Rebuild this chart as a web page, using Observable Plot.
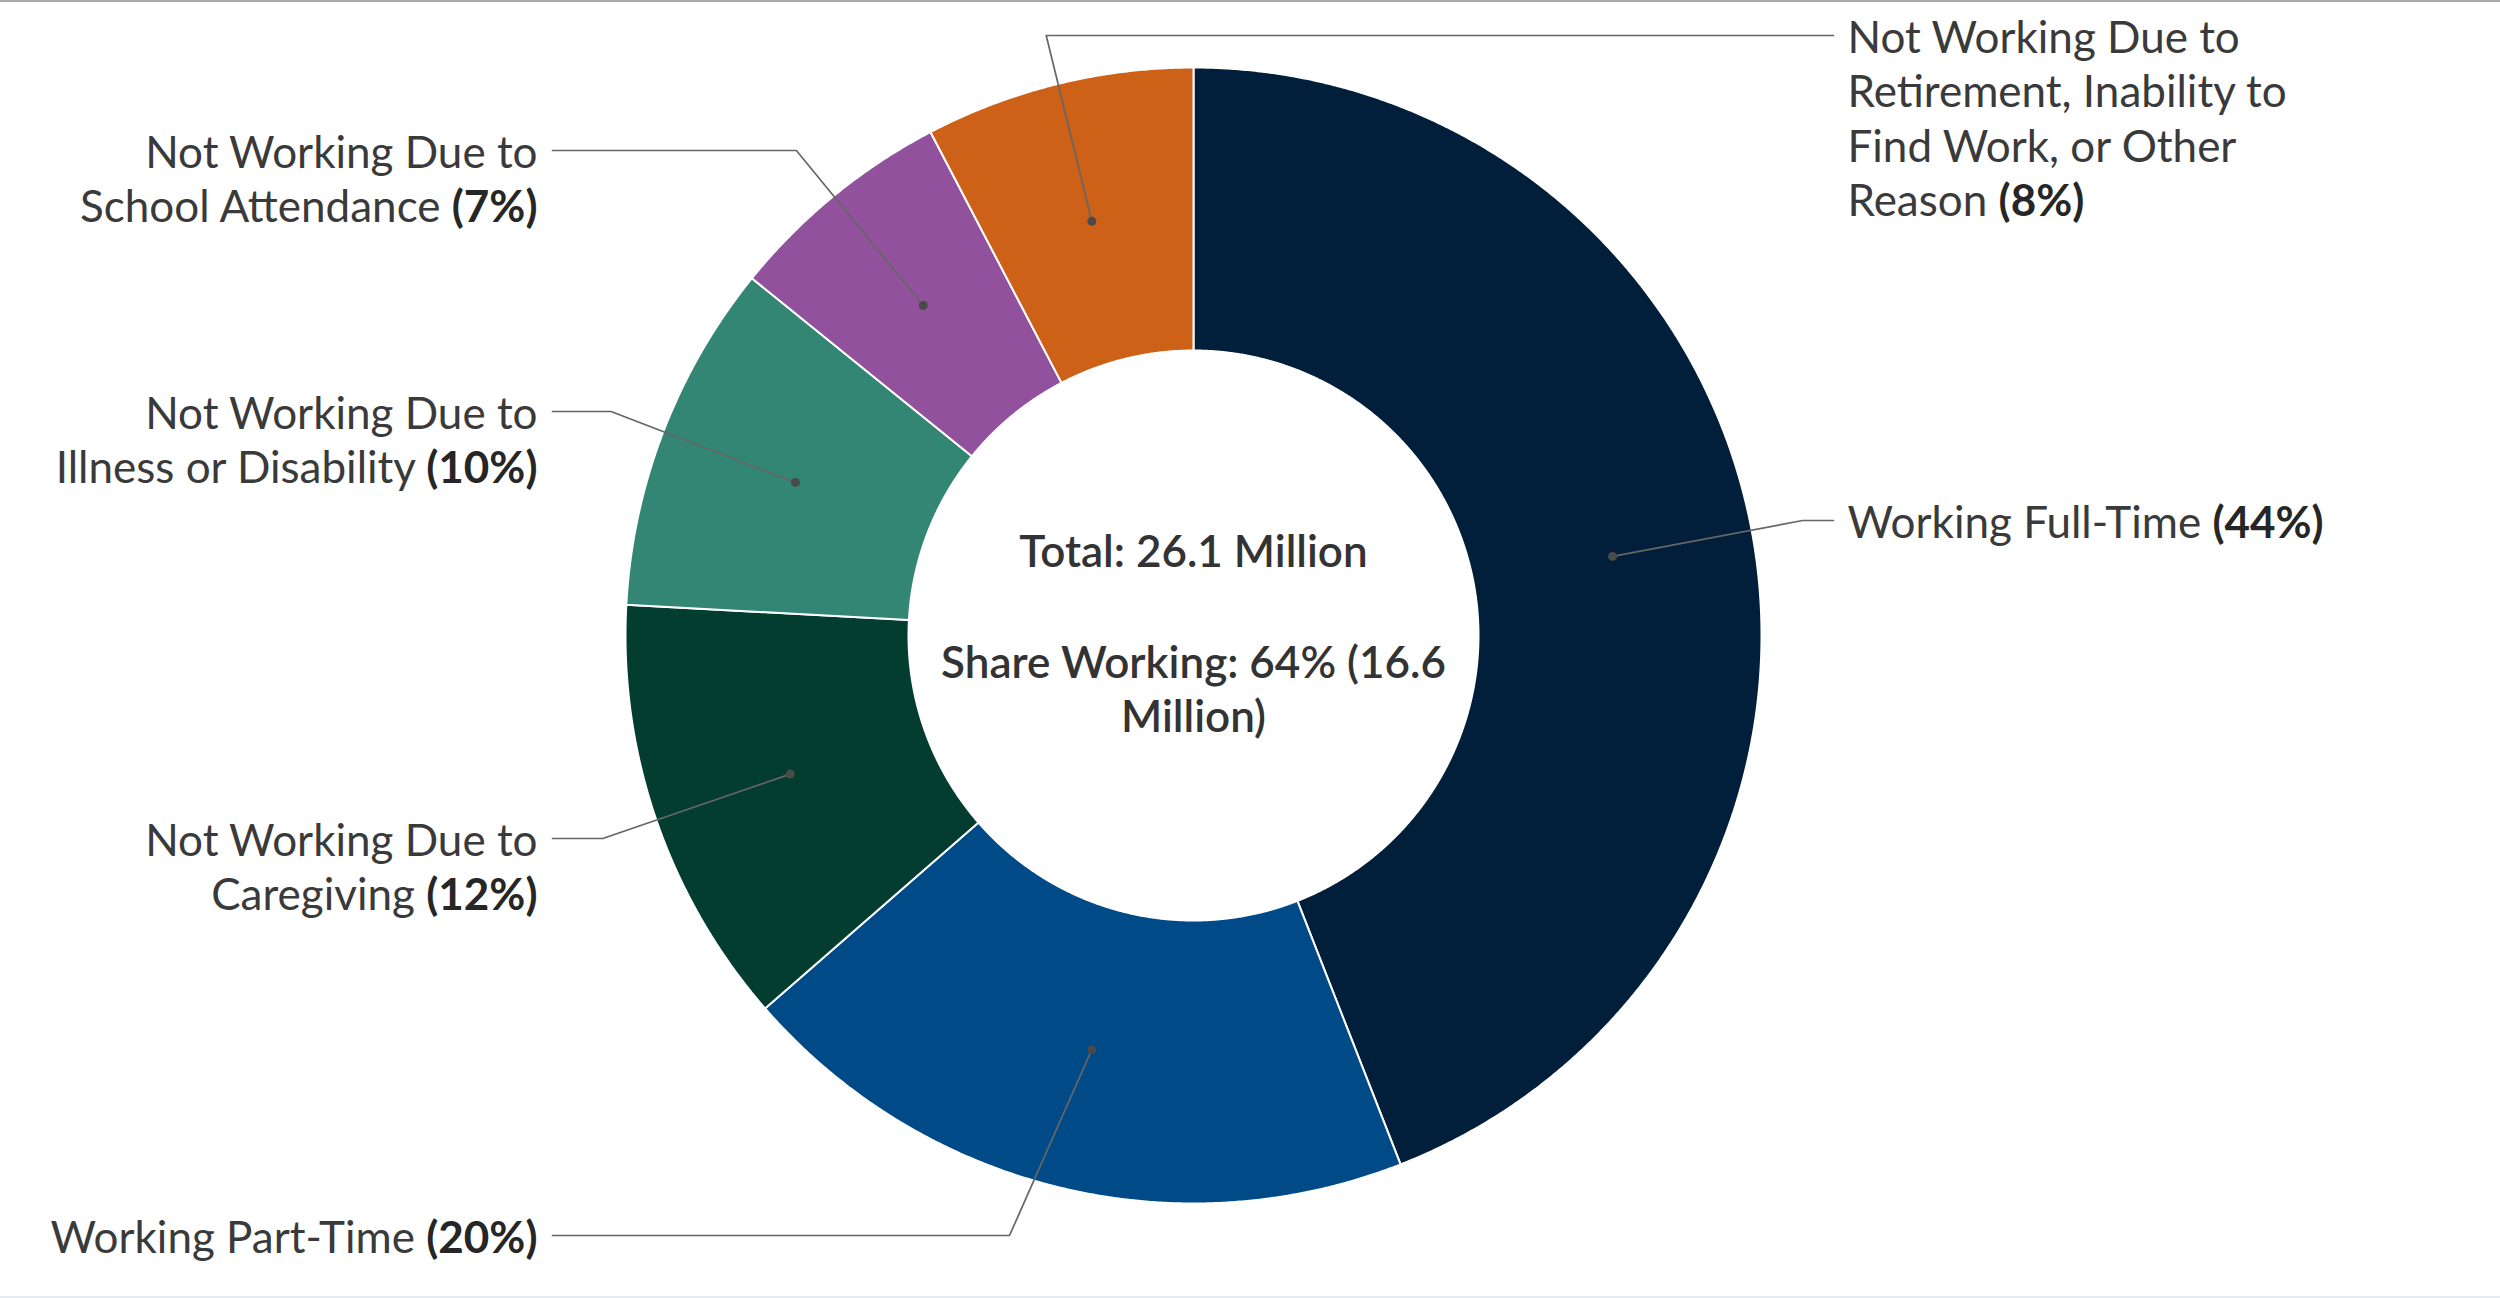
<!DOCTYPE html>
<html><head><meta charset="utf-8">
<script src="https://cdn.jsdelivr.net/npm/d3@7"></script>
<script src="https://cdn.jsdelivr.net/npm/@observablehq/plot@0.6"></script>
<style>
html,body{margin:0;padding:0;background:#fff;}
#wrap{width:2500px;height:1298px;box-sizing:border-box;border-top:2px solid #aaaaaa;border-bottom:2px solid #e4ebf1;overflow:hidden;}
#wrap svg{display:block}
</style></head><body><div id="wrap"></div>
<script>
// ---- data ----
const categories = [
  "Working Full-Time",
  "Working Part-Time",
  "Not Working Due to Caregiving",
  "Not Working Due to Illness or Disability",
  "Not Working Due to School Attendance",
  "Not Working Due to Retirement, Inability to Find Work, or Other Reason"
];
const millions = [11.5, 5.1, 3.2, 2.6, 1.7, 2.0];
const workingCategories = ["Working Full-Time", "Working Part-Time"];
const labelLines = [
  ["Working Full-Time"],
  ["Working Part-Time"],
  ["Not Working Due to", "Caregiving"],
  ["Not Working Due to", "Illness or Disability"],
  ["Not Working Due to", "School Attendance"],
  ["Not Working Due to", "Retirement, Inability to", "Find Work, or Other", "Reason"]
];

// ---- styles / layout ----
const colors = ["#011f3a", "#004a87", "#023d30", "#338673", "#91519d", "#cd6118"];
const W = 2500, H = 1294, TOP = 2;
const CX = 1193, CY = 635 - TOP, R_OUT = 568, R_IN = 285, R_MID = (R_OUT + R_IN) / 2;
const FS = 44, LH = 54.5;
const RIGHT_TEXT_X = 1847, RIGHT_LINE_X = 1833, LEFT_TEXT_X = 537, LEFT_LINE_X = 552;
const labelLayout = [
  {side: "right", y: 520},
  {side: "left", y: 1235, elbowX: 1009},
  {side: "left", y: 838},
  {side: "left", y: 411},
  {side: "left", y: 150},
  {side: "right", y: 35}
];

// ---- derived ----
const total = d3.sum(millions);
const working = d3.sum(millions.filter((v, i) => workingCategories.includes(categories[i])));
const arcs = d3.pie().sort(null)(millions);

const slicePts = [];
arcs.forEach((a, i) => {
  const n = Math.max(4, Math.ceil((a.endAngle - a.startAngle) / (Math.PI / 720)));
  const ring = [];
  for (let k = 0; k <= n; k++) ring.push([a.startAngle + (a.endAngle - a.startAngle) * k / n, R_OUT]);
  for (let k = n; k >= 0; k--) ring.push([a.startAngle + (a.endAngle - a.startAngle) * k / n, R_IN]);
  ring.push(ring[0]);
  ring.forEach(([t, r]) => slicePts.push({name: categories[i], x: CX + r * Math.sin(t), y: CY - r * Math.cos(t)}));
});

const centroids = arcs.map((a, i) => {
  const t = (a.startAngle + a.endAngle) / 2;
  return {name: categories[i], t, x: CX + R_MID * Math.sin(t), y: CY - R_MID * Math.cos(t)};
});

const leaderPts = [];
const labels = [];
centroids.forEach((c, i) => {
  const L = labelLayout[i];
  const ly = L.y - TOP;
  // elbow: where the slice's mid-angle ray meets the label's first line
  const r = (ly - CY) / (-Math.cos(c.t));
  let ex = L.elbowX != null ? L.elbowX : CX + r * Math.sin(c.t);
  const lx = L.side === "right" ? RIGHT_LINE_X : LEFT_LINE_X;
  leaderPts.push({name: c.name, x: c.x, y: c.y}, {name: c.name, x: ex, y: ly}, {name: c.name, x: lx, y: ly});
  const pct = Math.round(millions[i] / total * 100);
  const lines = labelLines[i].slice();
  lines[lines.length - 1] = lines[lines.length - 1] + " (" + pct + "%)";
  labels.push({
    side: L.side,
    text: lines.join("\n"),
    x: L.side === "right" ? RIGHT_TEXT_X : LEFT_TEXT_X,
    y: ly + (lines.length - 1) * LH / 2
  });
});

const fmt = d3.format(".1f");
const centerTop = [{text: "Total: " + fmt(total) + " Million", x: CX, y: 552 - TOP}];
const centerBottom = [{text: "Share Working: " + Math.round(working / total * 100) + "% (" + fmt(working) + "\nMillion)", x: CX, y: (660 + 714) / 2 - TOP}];

const chart = Plot.plot({
  width: W, height: H, margin: 0,
  x: {domain: [0, W], range: [0, W], axis: null},
  y: {domain: [0, H], range: [0, H], axis: null},
  color: {domain: categories, range: colors},
  style: {fontFamily: "Lato, 'Open Sans', sans-serif", background: "#fff", overflow: "visible"},
  marks: [
    Plot.line(slicePts, {x: "x", y: "y", z: "name", fill: "name", stroke: "#ffffff", strokeWidth: 2, curve: "linear"}),
    Plot.line(leaderPts, {x: "x", y: "y", z: "name", stroke: "#666666", strokeWidth: 1.7, curve: "linear"}),
    Plot.dot(centroids, {x: "x", y: "y", r: 4.5, fill: "#4a4a4a", stroke: "none"}),
    Plot.text(labels.filter(d => d.side === "right"), {x: "x", y: "y", text: "text", textAnchor: "start", lineAnchor: "middle", lineHeight: LH / FS, fontSize: FS, fill: "#3a3a3a", className: "pie-label"}),
    Plot.text(labels.filter(d => d.side === "left"), {x: "x", y: "y", text: "text", textAnchor: "end", lineAnchor: "middle", lineHeight: LH / FS, fontSize: FS, fill: "#3a3a3a", className: "pie-label"}),
    Plot.text(centerTop, {x: "x", y: "y", text: "text", textAnchor: "middle", lineAnchor: "middle", fontSize: FS, fontWeight: 600, fill: "#333333"}),
    Plot.text(centerBottom, {x: "x", y: "y", text: "text", textAnchor: "middle", lineAnchor: "middle", lineHeight: LH / FS, fontSize: FS, fontWeight: 600, fill: "#333333"})
  ]
});

// embolden the percentage at the end of each label
chart.querySelectorAll(".pie-label text").forEach(t => {
  const parts = t.querySelectorAll("tspan");
  const els = parts.length ? Array.from(parts) : [t];
  els.forEach(el => {
    const m = /^(.*?)(\(\d+%\))$/.exec(el.textContent);
    if (!m) return;
    el.textContent = m[1];
    const b = document.createElementNS("http://www.w3.org/2000/svg", "tspan");
    b.setAttribute("font-weight", "700");
    b.setAttribute("fill", "#262626");
    b.textContent = m[2];
    el.appendChild(b);
  });
});

document.getElementById("wrap").appendChild(chart);
</script>
</body></html>
